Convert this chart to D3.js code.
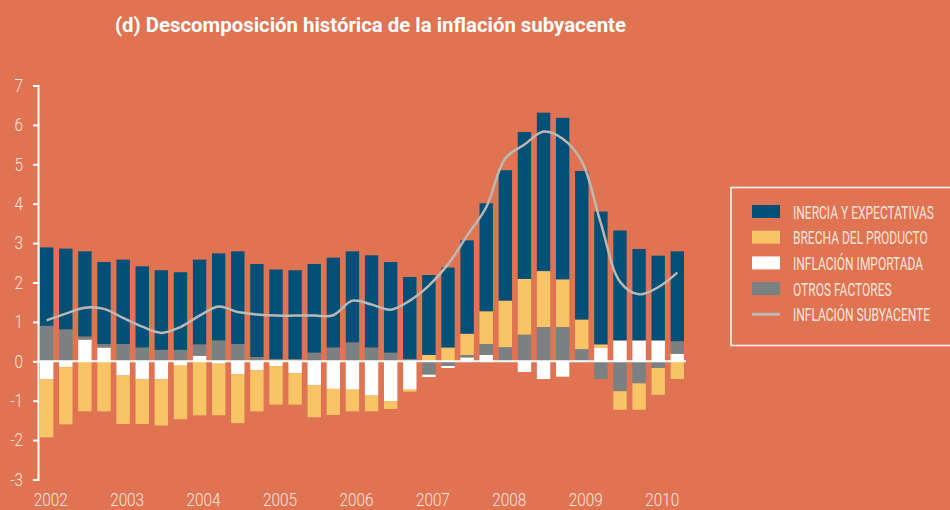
<!DOCTYPE html>
<html>
<head>
<meta charset="utf-8">
<script src="https://cdn.jsdelivr.net/npm/d3@7"></script>
<style>
  body { margin: 0; background: #df7352; }
  svg { display: block; }
  text { font-family: "Roboto", "Liberation Sans", sans-serif; }
</style>
</head>
<body>
<svg id="chart" width="950" height="510"></svg>
<script>
// quarters 2002T1 .. 2010T2
var quarters = ['2002T1','2002T2','2002T3','2002T4','2003T1','2003T2','2003T3','2003T4',
  '2004T1','2004T2','2004T3','2004T4','2005T1','2005T2','2005T3','2005T4',
  '2006T1','2006T2','2006T3','2006T4','2007T1','2007T2','2007T3','2007T4',
  '2008T1','2008T2','2008T3','2008T4','2009T1','2009T2','2009T3','2009T4',
  '2010T1','2010T2']
var years = ['2002','2003','2004','2005','2006','2007','2008','2009','2010']
var yTicks = [-3, -2, -1, 0, 1, 2, 3, 4, 5, 6, 7]

var inercia = [1.99, 2.05, 2.16, 2.08, 2.14, 2.06, 2.02, 1.97, 2.15, 2.21, 2.35, 2.36,
  2.27, 2.25, 2.25, 2.28, 2.31, 2.34, 2.30, 2.08, 2.03, 2.03, 2.37, 2.74,
  3.31, 3.73, 4.02, 4.10, 3.77, 3.37, 2.79, 2.32, 2.15, 2.28]
var brecha = [-1.47, -1.45, -1.27, -1.27, -1.23, -1.13, -1.17, -1.36, -1.37, -1.31, -1.24, -1.04,
  -0.98, -0.80, -0.81, -0.66, -0.55, -0.40, -0.20, -0.05, 0.16, 0.35, 0.54, 0.83,
  1.18, 1.41, 1.42, 1.21, 0.75, 0.08, -0.47, -0.67, -0.68, -0.45]
var importada = [-0.46, -0.15, 0.55, 0.35, -0.36, -0.46, -0.46, -0.11, 0.14, -0.06, -0.33, -0.23,
  -0.12, -0.30, -0.61, -0.70, -0.72, -0.87, -1.01, -0.72, -0.06, -0.05, 0.10, 0.16,
  0, -0.27, -0.45, -0.39, 0, 0.35, 0.53, 0.53, 0.53, 0.19]
var otros = [0.90, 0.81, 0.08, 0.09, 0.44, 0.35, 0.29, 0.29, 0.29, 0.53, 0.44, 0.11,
  0.06, 0.06, 0.22, 0.35, 0.48, 0.35, 0.22, 0.06, -0.34, -0.12, 0.06, 0.28,
  0.36, 0.68, 0.87, 0.87, 0.31, -0.45, -0.76, -0.56, -0.17, 0.32]
var subyacente = [1.04, 1.21, 1.36, 1.33, 1.10, 0.88, 0.72, 0.87, 1.16, 1.39, 1.25, 1.19,
  1.16, 1.16, 1.16, 1.17, 1.54, 1.44, 1.31, 1.54, 1.92, 2.46, 3.19, 3.91,
  5.15, 5.50, 5.83, 5.65, 5.08, 3.50, 2.02, 1.70, 1.88, 2.25]

var legendLabels = ['INERCIA Y EXPECTATIVAS', 'BRECHA DEL PRODUCTO', 'INFLACIÓN IMPORTADA',
  'OTROS FACTORES', 'INFLACIÓN SUBYACENTE']

var colors = {
  inercia: '#024f77',
  brecha: '#f9c466',
  importada: '#ffffff',
  otros: '#7b8183',
  linea: '#bdb8b3'
}
var values = { inercia: inercia, brecha: brecha, importada: importada, otros: otros }

// the source stacks positives and negatives in different orders
var posOrder = ['importada', 'otros', 'brecha', 'inercia']
var negOrder = ['otros', 'importada', 'brecha', 'inercia']

var svg = d3.select('#chart')

var x = d3.scaleBand()
  .domain(d3.range(quarters.length))
  .range([40, 684])
  .paddingInner(0.3)
  .paddingOuter(0)

var y = d3.scaleLinear().domain([-3, 7]).range([479.5, 85.5])

// title
svg.append('text')
  .attr('x', 115)
  .attr('y', 32)
  .attr('fill', '#ffffff')
  .attr('font-size', 20)
  .attr('font-weight', 'bold')
  .attr('textLength', 511)
  .attr('lengthAdjust', 'spacingAndGlyphs')
  .text('(d) Descomposición histórica de la inflación subyacente')

// stacked pieces
var pieces = []
quarters.forEach(function (q, i) {
  var pos = 0, neg = 0
  posOrder.forEach(function (k) {
    var v = values[k][i]
    if (v > 0) { pieces.push({ i: i, k: k, y0: pos, y1: pos + v }); pos += v }
  })
  negOrder.forEach(function (k) {
    var v = values[k][i]
    if (v < 0) { pieces.push({ i: i, k: k, y0: neg + v, y1: neg }); neg += v }
  })
})

svg.append('g').selectAll('rect')
  .data(pieces)
  .enter().append('rect')
    .attr('x', function (d) { return x(d.i) })
    .attr('width', x.bandwidth())
    .attr('y', function (d) { return y(d.y1) })
    .attr('height', function (d) { return y(d.y0) - y(d.y1) })
    .attr('fill', function (d) { return colors[d.k] })

// zero line
svg.append('line')
  .attr('x1', 38).attr('x2', 686)
  .attr('y1', y(0)).attr('y2', y(0))
  .attr('stroke', '#ffffff')
  .attr('stroke-width', 2)

// line
var line = d3.line()
  .x(function (d, i) { return x(i) + x.bandwidth() / 2 })
  .y(function (d) { return y(d) })
  .curve(d3.curveCatmullRom.alpha(0.5))

svg.append('path')
  .datum(subyacente)
  .attr('d', line)
  .attr('fill', 'none')
  .attr('stroke', colors.linea)
  .attr('stroke-width', 2.5)

// y axis
var yAxis = svg.append('g')
  .attr('transform', 'translate(38,0)')
  .call(d3.axisLeft(y).tickValues(yTicks).tickSize(5).tickSizeOuter(5).tickPadding(10)
    .tickFormat(function (d) { return String(d) }))
yAxis.select('.domain').attr('stroke', '#ffffff').attr('stroke-width', 2)
yAxis.selectAll('.tick line').attr('stroke', '#ffffff').attr('stroke-width', 2)
yAxis.selectAll('.tick text')
  .attr('x', 0)
  .attr('transform', 'translate(-15,0) scale(0.85,1)')
  .attr('fill', '#fde6dd')
  .attr('font-size', 18)
  .attr('font-weight', 300)

// year labels
svg.append('g').selectAll('text')
  .data(years)
  .enter().append('text')
    .attr('transform', function (d, j) {
      return 'translate(' + (x(j * 4) + x.bandwidth() / 2 + 4) + ',506) scale(0.85,1)'
    })
    .attr('text-anchor', 'middle')
    .attr('fill', '#fde6dd')
    .attr('font-size', 18)
    .attr('font-weight', 300)
    .text(function (d) { return d })

// legend
var legend = svg.append('g')
legend.append('rect')
  .attr('x', 731).attr('y', 187.5)
  .attr('width', 230).attr('height', 158)
  .attr('fill', 'none')
  .attr('stroke', '#ffffff')
  .attr('stroke-width', 1.5)

var legendKeys = ['inercia', 'brecha', 'importada', 'otros', 'linea']
var rows = legend.selectAll('g.row')
  .data(legendKeys)
  .enter().append('g')
    .attr('class', 'row')
    .attr('transform', function (d, j) { return 'translate(752,' + (211.5 + j * 25.7) + ')' })

rows.filter(function (d) { return d !== 'linea' })
  .append('rect')
    .attr('x', 0).attr('y', -6.5)
    .attr('width', 28).attr('height', 13)
    .attr('fill', function (d) { return colors[d] })
rows.filter(function (d) { return d === 'linea' })
  .append('line')
    .attr('x1', 0).attr('x2', 28)
    .attr('stroke', colors.linea)
    .attr('stroke-width', 3)
var legendText = rows.append('text')
  .attr('fill', '#fde6dd')
  .attr('font-size', 18.5)
  .attr('font-weight', 400)
  .text(function (d, j) { return legendLabels[j] })

// squeeze so the first label is as wide as in the original, the rest follow
var firstW = legendText.node().getComputedTextLength()
var squeeze = 141 / firstW
legendText.attr('transform', 'translate(41,7) scale(' + squeeze + ',1)')
</script>
</body>
</html>
